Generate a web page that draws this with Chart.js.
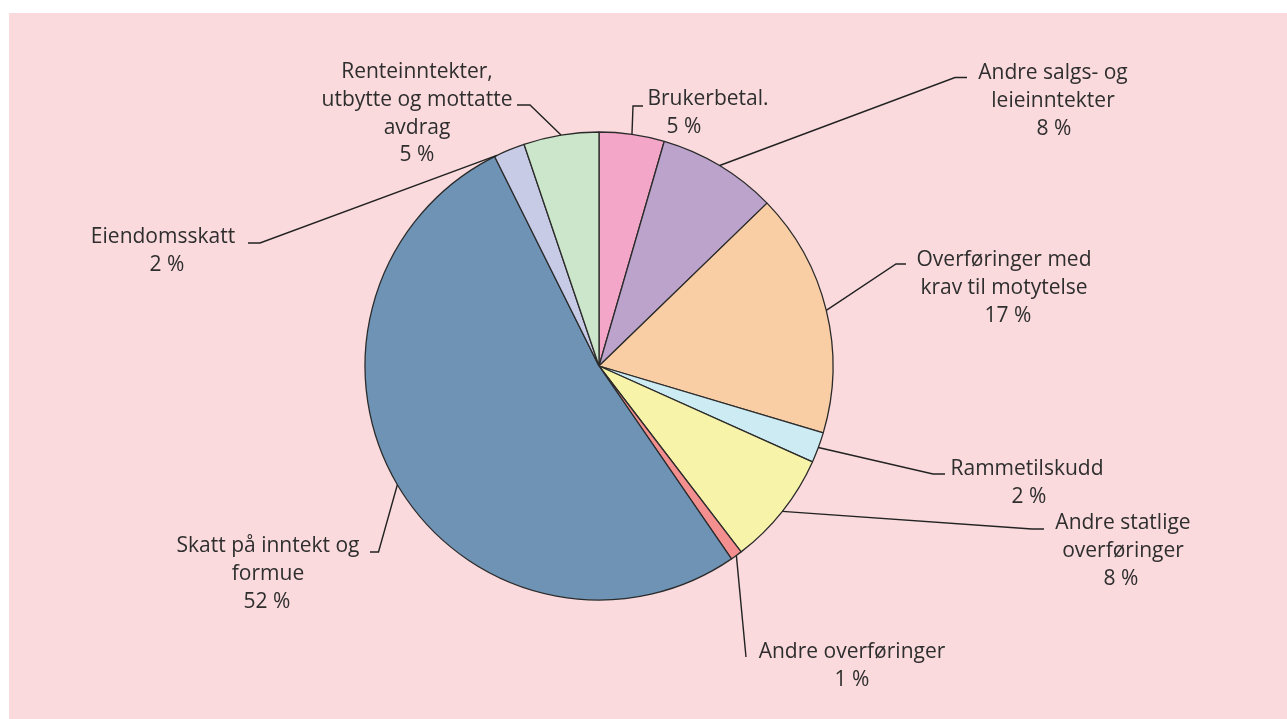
<!DOCTYPE html>
<html>
<head>
<meta charset="utf-8">
<script src="https://cdn.jsdelivr.net/npm/chart.js@4.4.1/dist/chart.umd.min.js"></script>
<style>
  html, body { margin: 0; padding: 0; background: #ffffff; }
  #wrap { position: absolute; left: 0; top: 0; width: 1287px; height: 719px; }
</style>
</head>
<body>
<div id="wrap"><canvas id="c" width="1287" height="719"></canvas></div>
<script>
// ---- data ----
const categories = [
  "Brukerbetal.",
  "Andre salgs- og leieinntekter",
  "Overføringer med krav til motytelse",
  "Rammetilskudd",
  "Andre statlige overføringer",
  "Andre overføringer",
  "Skatt på inntekt og formue",
  "Eiendomsskatt",
  "Renteinntekter, utbytte og mottatte avdrag"
];
const shares = [4.5, 8.25, 16.86, 2.11, 7.89, 0.81, 52.22, 2.17, 5.19];
const percentLabels = ["5 %", "8 %", "17 %", "2 %", "8 %", "1 %", "52 %", "2 %", "5 %"];
const labelLines = [
  ["Brukerbetal."],
  ["Andre salgs- og", "leieinntekter"],
  ["Overføringer med", "krav til motytelse"],
  ["Rammetilskudd"],
  ["Andre statlige", "overføringer"],
  ["Andre overføringer"],
  ["Skatt på inntekt og", "formue"],
  ["Eiendomsskatt"],
  ["Renteinntekter,", "utbytte og mottatte", "avdrag"]
];
const sliceColors = ["#F4A6C9", "#BBA3CC", "#FACEA4", "#CDEBF3", "#F7F4A9", "#F48F8F", "#6E93B5", "#C8CBE6", "#CBE6CB"];

// ---- label layout (leader elbow, leader end, text centre) ----
const labelLayout = [
  { frac: 0.5,  elbow: [633, 106],   end: [643, 106],   cx: 708,  pcx: 684,  y0: 99 },
  { frac: 0.5,  elbow: [955, 77.5],  end: [967, 77.5],  cx: 1053, pcx: 1054, y0: 73 },
  { frac: 0.5,  elbow: [896, 264],   end: [906, 264],   cx: 1004, pcx: 1008, y0: 260 },
  { frac: 0.5,  elbow: [933, 474],   end: [945, 474],   cx: 1027, pcx: 1029, y0: 469 },
  { frac: 0.5,  elbow: [1032, 529],  end: [1044, 529],  cx: 1123, pcx: 1121, y0: 523 },
  { frac: 0.5,  elbow: [746, 657],   end: [746, 657],   cx: 852,  pcx: 852,  y0: 652 },
  { frac: 0.5,  elbow: [378.5, 552], end: [370, 552],   cx: 268,  pcx: 267,  y0: 546 },
  { frac: 0.08, elbow: [260, 243],   end: [248, 243],   cx: 163,  pcx: 167,  y0: 237 },
  { frac: 0.5,  elbow: [530, 105],   end: [517, 105],   cx: 417,  pcx: 417,  y0: 72 }
];
const LINE_H = 27.8;
const FONT = '21px "Open Sans", "Noto Sans", sans-serif';
const TEXT_COLOR = '#2e2e2e';

const panelPlugin = {
  id: 'panel',
  beforeDraw(chart) {
    const ctx = chart.ctx;
    ctx.save();
    ctx.fillStyle = '#FADADD';
    ctx.fillRect(9, 13, chart.width - 9, chart.height - 13);
    ctx.restore();
  }
};

const labelPlugin = {
  id: 'leaderLabels',
  afterDatasetsDraw(chart) {
    const ctx = chart.ctx;
    const meta = chart.getDatasetMeta(0);
    ctx.save();
    meta.data.forEach((arc, i) => {
      const lay = labelLayout[i];
      const p = arc.getProps(['x', 'y', 'startAngle', 'endAngle', 'outerRadius'], true);
      const a = p.startAngle + (p.endAngle - p.startAngle) * lay.frac;
      const sx = p.x + Math.cos(a) * p.outerRadius;
      const sy = p.y + Math.sin(a) * p.outerRadius;
      ctx.beginPath();
      ctx.strokeStyle = '#222222';
      ctx.lineWidth = 1.4;
      ctx.moveTo(sx, sy);
      ctx.lineTo(lay.elbow[0], lay.elbow[1]);
      ctx.lineTo(lay.end[0], lay.end[1]);
      ctx.stroke();

      ctx.fillStyle = TEXT_COLOR;
      ctx.font = FONT;
      ctx.textAlign = 'center';
      ctx.textBaseline = 'middle';
      const lines = labelLines[i];
      lines.forEach((t, k) => ctx.fillText(t, lay.cx, lay.y0 + k * LINE_H));
      ctx.fillText(percentLabels[i], lay.pcx, lay.y0 + lines.length * LINE_H);
    });
    ctx.restore();
  }
};

const cx = 599, cy = 366, R = 234, BW = 1.3;
const size = 2 * R + BW;
new Chart(document.getElementById('c'), {
  type: 'pie',
  data: {
    labels: categories,
    datasets: [{
      data: shares,
      backgroundColor: sliceColors,
      borderColor: '#2b2b2b',
      borderWidth: BW
    }]
  },
  options: {
    responsive: false,
    animation: false,
    layout: {
      padding: {
        left: cx - size / 2,
        top: cy - size / 2,
        right: 1287 - (cx - size / 2) - size,
        bottom: 719 - (cy - size / 2) - size
      }
    },
    plugins: {
      legend: { display: false },
      tooltip: { enabled: false }
    }
  },
  plugins: [panelPlugin, labelPlugin]
});
</script>
</body>
</html>
